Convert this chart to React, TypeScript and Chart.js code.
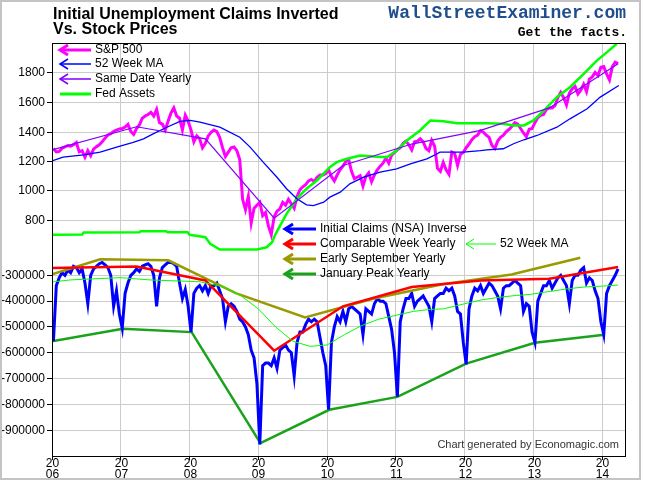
import React, { useEffect, useRef } from 'react';
import { Chart, registerables } from 'chart.js';

Chart.register(...registerables);

// ---------- ticks ----------
const YEAR_TICKS = [2006, 2007, 2008, 2009, 2010, 2011, 2012, 2013, 2014];
const SP_TICKS = [800, 1000, 1200, 1400, 1600, 1800];
const CLAIM_TICKS = [-300000, -400000, -500000, -600000, -700000, -800000, -900000];
const FIRST_YEAR = 2006;
const SLOTS_PER_YEAR = 24; // semi-monthly readings

// ---------- S&P 500 (semi-monthly, per year) ----------
const sp2006 = [1285, 1262, 1265, 1287, 1295, 1305, 1300, 1311, 1325, 1262, 1270, 1225, 1270, 1236, 1280, 1297, 1310, 1330, 1355, 1377, 1385, 1400, 1410, 1418];
const sp2007 = [1420, 1430, 1448, 1400, 1380, 1420, 1445, 1490, 1505, 1515, 1530, 1505, 1550, 1460, 1450, 1410, 1470, 1525, 1560, 1505, 1490, 1410, 1510, 1470];
const sp2008 = [1410, 1330, 1370, 1350, 1290, 1320, 1370, 1395, 1410, 1400, 1360, 1290, 1230, 1260, 1290, 1295, 1270, 1210, 940, 870, 960, 780, 880, 900];
const sp2009 = [920, 830, 850, 760, 700, 820, 860, 875, 920, 900, 940, 910, 880, 960, 1005, 1025, 1040, 1065, 1075, 1060, 1090, 1105, 1105, 1115];
const sp2010 = [1140, 1095, 1065, 1105, 1140, 1165, 1195, 1210, 1130, 1080, 1090, 1100, 1030, 1095, 1120, 1060, 1105, 1140, 1165, 1185, 1220, 1185, 1240, 1258];
const sp2011 = [1275, 1290, 1320, 1335, 1310, 1275, 1330, 1335, 1350, 1330, 1285, 1270, 1340, 1300, 1150, 1130, 1190, 1140, 1110, 1260, 1250, 1170, 1245, 1258];
const sp2012 = [1290, 1315, 1345, 1365, 1375, 1405, 1395, 1375, 1360, 1305, 1285, 1335, 1360, 1375, 1400, 1415, 1435, 1460, 1450, 1420, 1390, 1365, 1415, 1420];
const sp2013 = [1460, 1495, 1510, 1515, 1550, 1560, 1560, 1575, 1630, 1665, 1630, 1580, 1660, 1690, 1705, 1655, 1680, 1720, 1670, 1755, 1770, 1800, 1780, 1835];
const sp2014 = [1840, 1790, 1750, 1840, 1870, 1860];

// ---------- S&P 52 week MA ----------
const maDates = [2006.0, 2006.16, 2006.46, 2006.7, 2006.94, 2007.18, 2007.33, 2007.47, 2007.67, 2007.86, 2008.01, 2008.15, 2008.44, 2008.73, 2008.88, 2009.07, 2009.27, 2009.41, 2009.56, 2009.7, 2009.8, 2009.95, 2010.04, 2010.19, 2010.33, 2010.53, 2010.77, 2011.01, 2011.21, 2011.45, 2011.6, 2011.64, 2011.98, 2012.23, 2012.32, 2012.56, 2012.71, 2012.86, 2013.05, 2013.34, 2013.53, 2013.78, 2013.97, 2014.24];
const maValues = [1200, 1226, 1242, 1260, 1294, 1327, 1350, 1384, 1429, 1468, 1475, 1463, 1429, 1361, 1294, 1192, 1090, 1012, 944, 903, 898, 921, 955, 989, 1045, 1090, 1124, 1147, 1181, 1215, 1249, 1260, 1260, 1271, 1276, 1283, 1317, 1344, 1373, 1429, 1486, 1554, 1633, 1712];

// ---------- S&P same date yearly ----------
const sdDates = [2006.0, 2007.23, 2008.23, 2009.23, 2010.23, 2011.23, 2012.23, 2013.23, 2014.23];
const sdValues = [1275, 1432, 1350, 812, 1170, 1315, 1408, 1560, 1860];

// ---------- Fed assets ----------
const fedDates = [2006.0, 2006.44, 2006.46, 2007.27, 2007.29, 2007.66, 2007.68, 2007.97, 2008.0, 2008.23, 2008.3, 2008.44, 2008.98, 2009.12, 2009.2, 2009.24, 2009.29, 2009.41, 2009.56, 2009.7, 2009.85, 2010.04, 2010.14, 2010.29, 2010.48, 2010.67, 2010.87, 2011.01, 2011.16, 2011.35, 2011.5, 2011.69, 2011.89, 2012.08, 2012.32, 2012.56, 2012.71, 2012.86, 2013.0, 2013.15, 2013.34, 2013.53, 2013.73, 2013.92, 2014.07, 2014.21];
const fedValues = [700, 702, 716, 717, 724, 724, 717, 717, 700, 683, 639, 600, 600, 615, 649, 695, 740, 842, 944, 1012, 1068, 1158, 1192, 1215, 1237, 1230, 1226, 1271, 1339, 1407, 1475, 1470, 1456, 1456, 1456, 1452, 1441, 1441, 1475, 1542, 1633, 1700, 1791, 1881, 1938, 1995];

// ---------- Initial claims (NSA) inverse, semi-monthly per year ----------
const cl2006 = [-555000, -340000, -310000, -290000, -300000, -280000, -290000, -265000, -270000, -290000, -275000, -330000, -410000, -300000, -275000, -265000, -255000, -250000, -260000, -270000, -300000, -420000, -360000, -450000];
const cl2007 = [-505000, -370000, -330000, -300000, -290000, -275000, -285000, -265000, -260000, -255000, -265000, -300000, -420000, -310000, -270000, -260000, -250000, -250000, -255000, -266000, -330000, -390000, -355000, -420000];
const cl2008 = [-520000, -370000, -350000, -340000, -360000, -340000, -370000, -340000, -340000, -330000, -360000, -390000, -480000, -420000, -410000, -420000, -440000, -470000, -480000, -500000, -530000, -590000, -620000, -720000];
const cl2009 = [-955000, -650000, -640000, -640000, -650000, -620000, -660000, -590000, -580000, -570000, -590000, -600000, -690000, -560000, -520000, -520000, -490000, -470000, -480000, -470000, -480000, -540000, -600000, -650000];
const cl2010 = [-820000, -560000, -500000, -460000, -480000, -440000, -480000, -430000, -420000, -430000, -440000, -450000, -530000, -430000, -440000, -450000, -410000, -390000, -400000, -400000, -410000, -460000, -510000, -600000];
const cl2011 = [-770000, -480000, -430000, -390000, -390000, -370000, -420000, -400000, -390000, -380000, -400000, -420000, -480000, -390000, -380000, -370000, -370000, -350000, -360000, -350000, -380000, -440000, -450000, -560000];
const cl2012 = [-645000, -430000, -380000, -350000, -360000, -340000, -370000, -350000, -330000, -340000, -360000, -380000, -430000, -350000, -340000, -340000, -330000, -320000, -330000, -340000, -440000, -410000, -420000, -520000];
const cl2013 = [-560000, -400000, -370000, -340000, -340000, -320000, -350000, -330000, -310000, -300000, -320000, -340000, -410000, -320000, -300000, -300000, -280000, -270000, -330000, -310000, -320000, -360000, -390000, -480000];
const cl2014 = [-530000, -370000, -340000, -320000, -300000, -275000];

// ---------- Comparable week yearly ----------
const cwDates = [2006.0, 2007.23, 2008.23, 2009.23, 2010.23, 2011.23, 2012.23, 2013.23, 2014.23];
const cwValues = [-272000, -266000, -320000, -592000, -420000, -345000, -320000, -313000, -268000];

// ---------- Early September yearly ----------
const esDates = [2006.0, 2006.7, 2007.69, 2008.68, 2009.68, 2010.68, 2011.68, 2012.68, 2013.68];
const esValues = [-296000, -238000, -242000, -370000, -463000, -390000, -335000, -297000, -232000];

// ---------- January peak yearly ----------
const jpDates = [2006.0, 2007.03, 2008.03, 2009.03, 2010.03, 2011.02, 2012.02, 2013.02, 2014.03];
const jpValues = [-556000, -507000, -520000, -950000, -821000, -771000, -642000, -561000, -530000];

// ---------- Claims 52 week MA ----------
const cmaDates = [2006.0, 2006.26, 2006.99, 2007.43, 2008.15, 2008.5, 2008.75, 2009.0, 2009.25, 2009.5, 2009.75, 2010.0, 2010.25, 2010.5, 2010.75, 2011.0, 2011.25, 2011.5, 2011.69, 2012.0, 2012.25, 2012.5, 2012.75, 2012.95, 2013.25, 2013.5, 2013.75, 2014.0, 2014.23];
const cmaValues = [-326000, -318000, -309000, -318000, -325000, -345000, -380000, -430000, -500000, -555000, -575000, -570000, -530000, -495000, -470000, -455000, -440000, -432000, -430000, -410000, -395000, -385000, -378000, -374000, -362000, -352000, -345000, -342000, -338000];

// ---------- helpers ----------
const pairs = (xs: number[], ys: number[]) => xs.map((x, i) => ({ x, y: ys[i] }));
const slotted = (rows: number[][]) =>
  rows.flatMap((row, i) => row.map((v, k) => ({ x: FIRST_YEAR + i + (k + 0.5) / SLOTS_PER_YEAR, y: v })));

const GRID = '#cccccc';
const FONT = '"Liberation Sans", Arial, sans-serif';

const C = {
  sp: '#ff00ff',
  ma: '#0000ff',
  sd: '#8000ff',
  fed: '#00ff00',
  claims: '#0000ff',
  cw: '#ff0000',
  es: '#999900',
  jp: '#1aa31a',
  cma: '#00ff00',
};

function arrow(ctx: CanvasRenderingContext2D, x1: number, x2: number, y: number, color: string, w: number, head = true) {
  ctx.save();
  ctx.strokeStyle = color;
  ctx.lineWidth = w;
  ctx.beginPath();
  ctx.moveTo(x1, y);
  ctx.lineTo(x2, y);
  ctx.stroke();
  if (head) {
    ctx.beginPath();
    ctx.moveTo(x1 + 8, y - 5);
    ctx.lineTo(x1, y);
    ctx.lineTo(x1 + 8, y + 5);
    ctx.stroke();
  }
  ctx.restore();
}

const decor = {
  id: 'decor',
  beforeDatasetsDraw(chart: any) {
    const { ctx, chartArea: a } = chart;
    const s = chart.scales.y2;
    ctx.save();
    ctx.strokeStyle = GRID;
    ctx.lineWidth = 1;
    SP_TICKS.forEach((v) => {
      const y = Math.round(s.getPixelForValue(v)) + 0.5;
      ctx.beginPath();
      ctx.moveTo(a.left, y);
      ctx.lineTo(a.right, y);
      ctx.stroke();
    });
    ctx.restore();
  },
  afterDraw(chart: any) {
    const { ctx, chartArea: a } = chart;
    const s = chart.scales.y2;
    const xs = chart.scales.x;
    ctx.save();
    // plot border
    ctx.strokeStyle = '#000';
    ctx.lineWidth = 1;
    ctx.strokeRect(Math.round(a.left) + 0.5, Math.round(a.top) + 0.5, Math.round(a.right - a.left), Math.round(a.bottom - a.top));
    // upper axis ticks & labels
    ctx.font = `12px ${FONT}`;
    ctx.fillStyle = '#000';
    ctx.textAlign = 'right';
    ctx.textBaseline = 'middle';
    SP_TICKS.forEach((v) => {
      const y = Math.round(s.getPixelForValue(v)) + 0.5;
      ctx.beginPath();
      ctx.moveTo(a.left - 5, y);
      ctx.lineTo(a.left, y);
      ctx.stroke();
      ctx.fillText(String(v), a.left - 7, y);
    });
    // x labels (two-line years)
    ctx.textAlign = 'center';
    YEAR_TICKS.forEach((v) => {
      const x = Math.round(xs.getPixelForValue(v)) + 0.5;
      ctx.fillText(String(v).slice(0, 2), x, a.bottom + 8);
      ctx.fillText(String(v).slice(2), x, a.bottom + 19);
    });
    // titles
    ctx.textAlign = 'left';
    ctx.textBaseline = 'alphabetic';
    ctx.font = `bold 16px ${FONT}`;
    ctx.fillText('Initial Unemployment Claims Inverted', 53, 19);
    ctx.fillText('Vs. Stock Prices', 53, 34);
    ctx.textAlign = 'right';
    ctx.font = 'bold 18px "Liberation Mono", "Courier New", monospace';
    ctx.fillStyle = '#1f4e8c';
    ctx.fillText('WallStreetExaminer.com', 626, 18);
    ctx.font = 'bold 13px "Liberation Mono", "Courier New", monospace';
    ctx.fillStyle = '#000';
    ctx.fillText('Get the facts.', 627, 36);
    ctx.font = `11px ${FONT}`;
    ctx.fillStyle = '#333';
    ctx.fillText('Chart generated by Economagic.com', 619, 448);
    // upper legend
    ctx.textAlign = 'left';
    ctx.textBaseline = 'middle';
    ctx.font = `12px ${FONT}`;
    const up = [
      { t: 'S&P 500', c: C.sp, w: 3, h: true, y: 50 },
      { t: '52 Week MA', c: C.ma, w: 1.5, h: true, y: 64 },
      { t: 'Same Date Yearly', c: C.sd, w: 1.5, h: true, y: 79 },
      { t: 'Fed Assets', c: C.fed, w: 3, h: false, y: 94 },
    ];
    up.forEach((e) => {
      arrow(ctx, 60, 91, e.y, e.c, e.w, e.h);
      ctx.fillStyle = '#000';
      ctx.fillText(e.t, 95, e.y);
    });
    const low = [
      { t: 'Initial Claims (NSA) Inverse', c: C.claims, w: 3, y: 229 },
      { t: 'Comparable Week Yearly', c: C.cw, w: 3, y: 244 },
      { t: 'Early September Yearly', c: C.es, w: 3, y: 259 },
      { t: 'January Peak Yearly', c: C.jp, w: 3, y: 274 },
    ];
    low.forEach((e) => {
      arrow(ctx, 285, 316, e.y, e.c, e.w, true);
      ctx.fillStyle = '#000';
      ctx.fillText(e.t, 320, e.y);
    });
    arrow(ctx, 466, 496, 244, C.cma, 1, true);
    ctx.fillStyle = '#000';
    ctx.fillText('52 Week MA', 500, 244);
    // outer frame
    ctx.strokeStyle = '#c4c4c4';
    ctx.lineWidth = 2;
    ctx.strokeRect(1, 1, 639, 478);
    ctx.restore();
  },
};

const line = (label: string, data: any[], color: string, width: number, axis: string, order: number) => ({
  label,
  data,
  borderColor: color,
  backgroundColor: color,
  borderWidth: width,
  yAxisID: axis,
  order,
  pointRadius: 0,
  tension: 0,
  fill: false,
});

export default function App() {
  const ref = useRef<HTMLCanvasElement>(null);
  useEffect(() => {
    Chart.defaults.font.family = FONT;
    Chart.defaults.font.size = 12;
    Chart.defaults.color = '#000';
    const chart = new Chart(ref.current as HTMLCanvasElement, {
      type: 'line',
      data: {
        datasets: [
          line('Same Date Yearly', pairs(sdDates, sdValues), C.sd, 1.2, 'y2', 1),
          line('52 Week MA', pairs(maDates, maValues), C.ma, 1.3, 'y2', 2),
          line('Fed Assets', pairs(fedDates, fedValues), C.fed, 2.5, 'y2', 3),
          line('S&P 500', slotted([sp2006, sp2007, sp2008, sp2009, sp2010, sp2011, sp2012, sp2013, sp2014]), C.sp, 3, 'y2', 4),
          line('52 Week MA (claims)', pairs(cmaDates, cmaValues), C.cma, 1, 'y', 5),
          line('Comparable Week Yearly', pairs(cwDates, cwValues), C.cw, 2.5, 'y', 6),
          line('Early September Yearly', pairs(esDates, esValues), C.es, 2.5, 'y', 7),
          line('Initial Claims (NSA) Inverse', slotted([cl2006, cl2007, cl2008, cl2009, cl2010, cl2011, cl2012, cl2013, cl2014]), C.claims, 3, 'y', 8),
          line('January Peak Yearly', pairs(jpDates, jpValues), C.jp, 2.5, 'y', 9),
        ] as any,
      },
      options: {
        animation: false,
        responsive: false,
        maintainAspectRatio: false,
        devicePixelRatio: 1,
        layout: { padding: { left: 0, right: 25, top: 43, bottom: 0 } },
        plugins: { legend: { display: false }, tooltip: { enabled: false }, title: { display: false } },
        scales: {
          x: {
            type: 'linear',
            min: 2006,
            max: 2014.33,
            afterBuildTicks: (s: any) => {
              s.ticks = YEAR_TICKS.map((v) => ({ value: v }));
            },
            afterFit: (s: any) => {
              s.height = 34;
            },
            grid: { color: GRID, tickColor: '#000', tickLength: 4 },
            border: { color: '#000', width: 1 },
            ticks: { display: false },
          },
          y: {
            type: 'linear',
            position: 'left',
            min: -1000000,
            max: 600000,
            afterBuildTicks: (s: any) => {
              s.ticks = CLAIM_TICKS.map((v) => ({ value: v }));
            },
            afterFit: (s: any) => {
              s.width = 52;
            },
            grid: { color: GRID, tickColor: '#000', tickLength: 5 },
            border: { color: '#000', width: 1 },
            ticks: { color: '#000', padding: 2, font: { size: 12 }, callback: (v: any) => String(v) },
          },
          y2: {
            type: 'linear',
            display: false,
            min: -800,
            max: 2000,
          },
        },
      } as any,
      plugins: [decor],
    });
    return () => chart.destroy();
  }, []);
  return (
    <div style={{ position: 'absolute', left: 0, top: 0, width: 650, height: 490, background: '#fff' }}>
      <canvas ref={ref} width={650} height={490} style={{ display: 'block', width: 650, height: 490 }} />
    </div>
  );
}
